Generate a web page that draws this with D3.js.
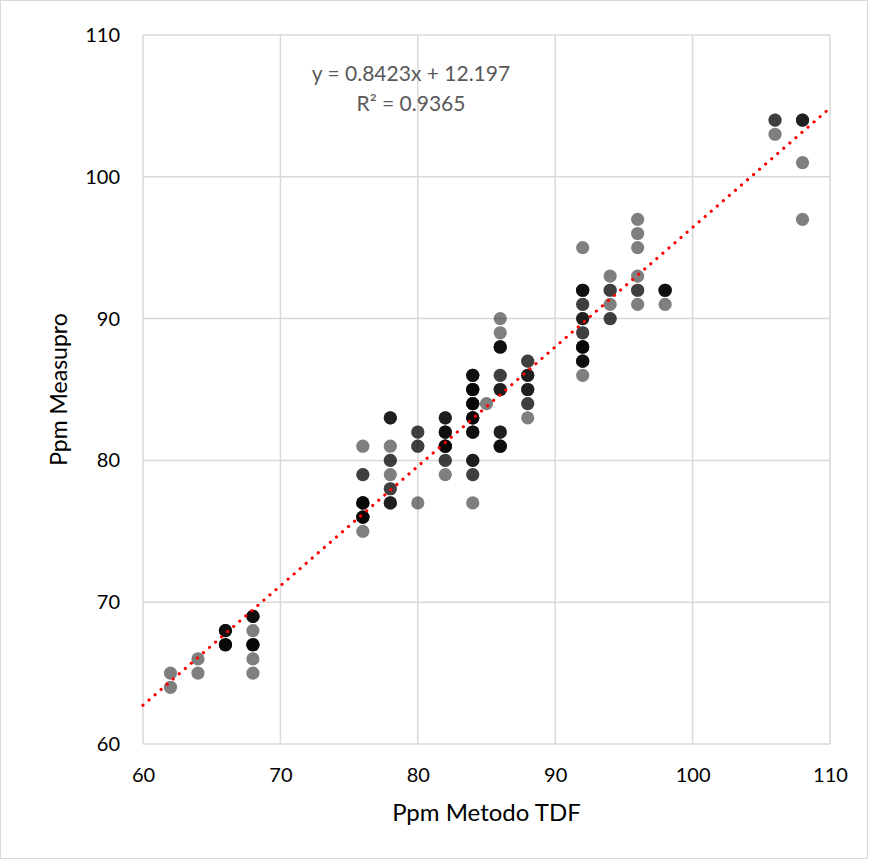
<!DOCTYPE html>
<html>
<head>
<meta charset="utf-8">
<script src="https://cdn.jsdelivr.net/npm/d3@7"></script>
<style>
  html, body { margin: 0; padding: 0; background: #fff; }
  svg { display: block; }
  text { font-family: Lato, "Open Sans", sans-serif; }
</style>
</head>
<body>
<svg id="chart" width="869" height="860"></svg>
<script>
// TDF method reading (x), Measupro reading (y) and how many samples share that pair
const tdfValues = [
  62, 62,
  64, 64,
  66, 66,
  68, 68, 68, 68, 68,
  76, 76, 76, 76, 76,
  78, 78, 78, 78, 78, 78,
  80, 80, 80,
  82, 82, 82, 82, 82,
  84, 84, 84, 84, 84, 84, 84, 84,
  85,
  86, 86, 86, 86, 86, 86, 86,
  88, 88, 88, 88, 88,
  92, 92, 92, 92, 92, 92, 92, 92,
  94, 94, 94, 94,
  96, 96, 96, 96, 96, 96,
  98, 98,
  106, 106,
  108, 108, 108
];
const measuproValues = [
  65, 64,
  66, 65,
  68, 67,
  69, 68, 67, 66, 65,
  81, 79, 77, 76, 75,
  83, 81, 80, 79, 78, 77,
  82, 81, 77,
  83, 82, 81, 80, 79,
  86, 85, 84, 83, 82, 80, 79, 77,
  84,
  90, 89, 88, 86, 85, 82, 81,
  87, 86, 85, 84, 83,
  95, 92, 91, 90, 89, 88, 87, 86,
  93, 92, 91, 90,
  97, 96, 95, 93, 92, 91,
  92, 91,
  104, 103,
  104, 101, 97
];
const sampleCounts = [
  1, 1,
  1, 1,
  4, 5,
  4, 1, 5, 1, 1,
  1, 2, 5, 5, 1,
  3, 1, 2, 1, 2, 3,
  2, 2, 1,
  3, 4, 5, 2, 1,
  4, 5, 5, 5, 4, 3, 2, 1,
  1,
  1, 1, 4, 2, 3, 3, 4,
  2, 3, 3, 2, 1,
  1, 4, 2, 3, 2, 5, 4, 1,
  1, 2, 1, 2,
  1, 1, 1, 1, 2, 1,
  4, 1,
  2, 1,
  3, 1, 1
];

const xTicks = [60, 70, 80, 90, 100, 110];
const yTicks = [60, 70, 80, 90, 100, 110];

// Linear trend fitted in the spreadsheet
const trendSlope = 0.8423;
const trendIntercept = 12.197;
const rSquared = 0.9365;

const xTitle = "Ppm Metodo TDF";
const yTitle = "Ppm Measupro";

const W = 869, H = 860;
const plot = { left: 143, right: 830, top: 35, bottom: 744 };

const svg = d3.select("#chart");

// chart area frame
svg.append("rect")
  .attr("x", 0.5).attr("y", 0.5)
  .attr("width", W - 2).attr("height", H - 2)
  .attr("fill", "#fff")
  .attr("stroke", "#d9d9d9")
  .attr("stroke-width", 1);

const x = d3.scaleLinear().domain([60, 110]).range([plot.left, plot.right]);
const y = d3.scaleLinear().domain([60, 110]).range([plot.bottom, plot.top]);

// gridlines
const grid = svg.append("g");
grid.selectAll("line.vx").data(xTicks).join("line")
  .attr("x1", d => x(d)).attr("x2", d => x(d))
  .attr("y1", plot.top).attr("y2", plot.bottom)
  .attr("stroke", "#d9d9d9").attr("stroke-width", 1.5);
grid.selectAll("line.hy").data(yTicks).join("line")
  .attr("x1", plot.left).attr("x2", plot.right)
  .attr("y1", d => y(d)).attr("y2", d => y(d))
  .attr("stroke", "#d9d9d9").attr("stroke-width", 1.5);

// axes (labels only, no domain or tick marks)
const xAxis = svg.append("g")
  .attr("transform", `translate(0,${plot.bottom})`)
  .call(d3.axisBottom(x).tickValues(xTicks).tickSize(0).tickPadding(24));
const yAxis = svg.append("g")
  .attr("transform", `translate(${plot.left},0)`)
  .call(d3.axisLeft(y).tickValues(yTicks).tickSize(0).tickPadding(23));
[xAxis, yAxis].forEach(a => {
  a.select(".domain").remove();
  a.selectAll("text")
    .attr("fill", "#000")
    .style("font-size", "20px")
    .style("font-family", "Lato, 'Open Sans', sans-serif");
});

// points: each sample is a half-transparent disc, so shared values stack darker
const samples = [];
tdfValues.forEach((tv, i) => {
  for (let k = 0; k < sampleCounts[i]; k++) {
    samples.push({ tdf: tv, measupro: measuproValues[i] });
  }
});
svg.append("g").selectAll("circle").data(samples).join("circle")
  .attr("cx", d => x(d.tdf))
  .attr("cy", d => y(d.measupro))
  .attr("r", 6.6)
  .attr("fill", "#000")
  .attr("fill-opacity", 0.5);

// dotted red trendline across the full axis range
const xs = x.domain();
svg.append("line")
  .attr("x1", x(xs[0])).attr("y1", y(trendSlope * xs[0] + trendIntercept))
  .attr("x2", x(xs[1])).attr("y2", y(trendSlope * xs[1] + trendIntercept))
  .attr("stroke", "#ff0000")
  .attr("stroke-width", 3.2)
  .attr("stroke-linecap", "round")
  .attr("stroke-dasharray", "0.01 8");

// equation label
const eq = svg.append("g").attr("fill", "#595959").style("font-size", "21px");
eq.append("text")
  .attr("x", 411).attr("y", 81)
  .attr("text-anchor", "middle")
  .text(`y = ${trendSlope}x + ${trendIntercept}`);
eq.append("text")
  .attr("x", 411).attr("y", 111)
  .attr("text-anchor", "middle")
  .text(`R² = ${rSquared}`);

// axis titles
svg.append("text")
  .attr("x", (plot.left + plot.right) / 2).attr("y", 821)
  .attr("text-anchor", "middle")
  .style("font-size", "24px")
  .attr("fill", "#000")
  .text(xTitle);
svg.append("text")
  .attr("transform", `translate(67,${(plot.top + plot.bottom) / 2}) rotate(-90)`)
  .attr("text-anchor", "middle")
  .style("font-size", "23px")
  .attr("fill", "#000")
  .text(yTitle);
</script>
</body>
</html>
